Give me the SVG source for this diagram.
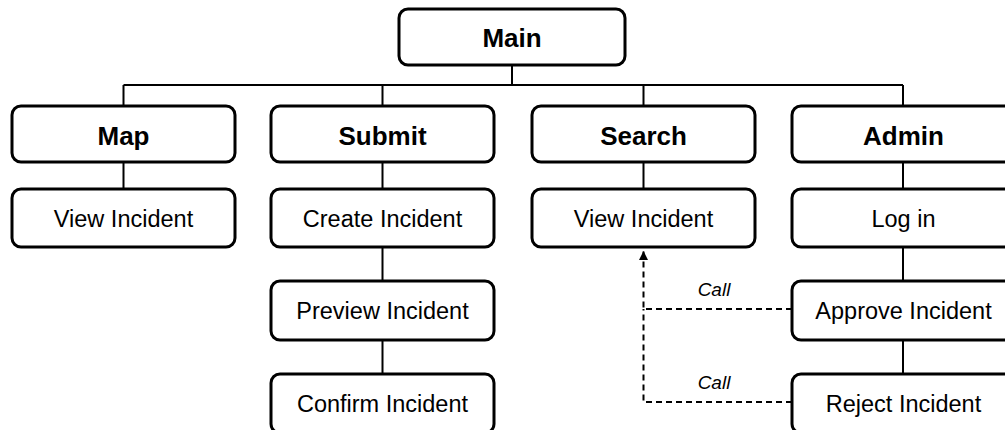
<svg xmlns="http://www.w3.org/2000/svg" width="1005" height="430" viewBox="0 0 1005 430">
<defs>
<style>
.box{fill:#fff;stroke:#000;stroke-width:3}
.ln{fill:none;stroke:#000;stroke-width:2}
.dash{fill:none;stroke:#000;stroke-width:2;stroke-dasharray:6 4}
.t{font-family:"Liberation Sans",Arial,sans-serif;font-size:23.5px;text-anchor:middle;fill:#000}
.b{font-family:"Liberation Sans",Arial,sans-serif;font-size:26px;font-weight:bold;text-anchor:middle;fill:#000}
.c{font-family:"Liberation Sans",Arial,sans-serif;font-size:19px;font-style:italic;text-anchor:middle;fill:#000}
</style>
<marker id="arr" viewBox="0 0 10 10" refX="10" refY="5" markerWidth="10" markerHeight="9" markerUnits="userSpaceOnUse" orient="auto">
<path d="M0,0 L10,5 L0,10 Z" fill="#000"/>
</marker>
</defs>
<g id="connectors">
<path class="ln" d="M512,65 V85 M123.5,85 H903 M123.5,85 V105 M382.5,85 V105 M643.5,85 V105 M903,85 V105"/>
<path class="ln" d="M123.5,162 V188 M382.5,162 V188 M382.5,247 V280 M382.5,340 V373 M643.5,162 V188 M903,162 V188 M903,247 V280 M903,340 V373"/>
<path class="dash" d="M792,309 H643.5 V251" marker-end="url(#arr)"/>
<path class="dash" d="M792,402 H643.5 V309"/>
<text class="c" x="714" y="296">Call</text>
<text class="c" x="714" y="389">Call</text>
</g>
<g id="main"><rect class="box" x="399" y="9" width="226" height="56" rx="9"/><text class="b" x="512" y="47">Main</text></g>
<g id="map"><rect class="box" x="12" y="106" width="223" height="56" rx="9"/><text class="b" x="123.5" y="145">Map</text></g>
<g id="submit"><rect class="box" x="271" y="106" width="223" height="56" rx="9"/><text class="b" x="382.5" y="145">Submit</text></g>
<g id="search"><rect class="box" x="532" y="106" width="223" height="56" rx="9"/><text class="b" x="643.5" y="145">Search</text></g>
<g id="admin"><rect class="box" x="792" y="106" width="223" height="56" rx="9"/><text class="b" x="903.5" y="145">Admin</text></g>
<g id="map-view"><rect class="box" x="12" y="189" width="223" height="58" rx="9"/><text class="t" x="123.5" y="226.5">View Incident</text></g>
<g id="submit-create"><rect class="box" x="271" y="189" width="223" height="58" rx="9"/><text class="t" x="382.5" y="226.5">Create Incident</text></g>
<g id="submit-preview"><rect class="box" x="271" y="281" width="223" height="59" rx="9"/><text class="t" x="382.5" y="319">Preview Incident</text></g>
<g id="submit-confirm"><rect class="box" x="271" y="374" width="223" height="59" rx="9"/><text class="t" x="382.5" y="412">Confirm Incident</text></g>
<g id="search-view"><rect class="box" x="532" y="189" width="223" height="58" rx="9"/><text class="t" x="643.5" y="226.5">View Incident</text></g>
<g id="admin-login"><rect class="box" x="792" y="189" width="223" height="58" rx="9"/><text class="t" x="903.5" y="226.5">Log in</text></g>
<g id="admin-approve"><rect class="box" x="792" y="281" width="223" height="59" rx="9"/><text class="t" x="903.5" y="319">Approve Incident</text></g>
<g id="admin-reject"><rect class="box" x="792" y="374" width="223" height="59" rx="9"/><text class="t" x="903.5" y="412">Reject Incident</text></g>
</svg>
